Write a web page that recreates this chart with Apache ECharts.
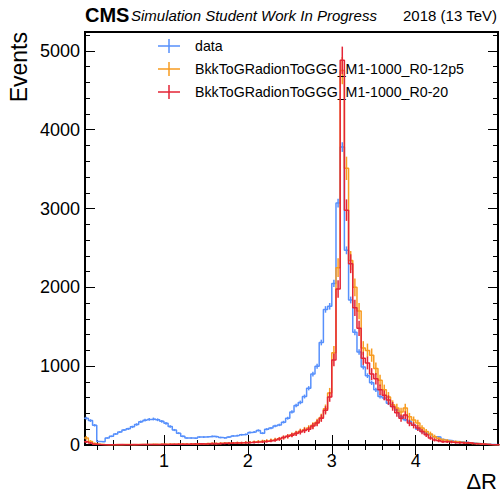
<!DOCTYPE html>
<html><head><meta charset="utf-8">
<script src="https://cdn.jsdelivr.net/npm/echarts@6/dist/echarts.min.js"></script>
<style>html,body{margin:0;padding:0;background:#fff}#c{width:500px;height:493px}</style>
</head><body><div id="c"></div>
<script>
// Histogram binning (ΔR), bins of width 0.05 starting at 0.05
const binStart = 0.05, binWidth = 0.05;

const dataCounts = [340,310,250,45,40,90,110,140,165,190,
 205,230,260,295,315,325,330,320,300,275,
 235,190,150,110,90,88,85,100,100,105,
 110,105,95,90,100,115,120,130,135,160,
 165,185,150,200,215,240,255,290,340,420,
 500,540,615,720,900,1000,1300,1720,1760,2050,
 3070,3780,2470,1840,1430,1180,990,880,790,700,
 615,595,530,490,445,360,320,300,255,200,
 170,150,130,105,100,70,60,55,45,40,
 35,30,25,20,15,12,8,6,4];

const r12p5Counts = [90,45,20,8,5,4,3,5,4,6,
 5,4,6,5,7,6,8,7,9,8,
 10,9,11,12,11,13,14,16,15,18,
 20,19,22,24,23,26,30,28,33,36,
 40,45,50,55,62,70,80,95,110,130,
 150,175,195,215,250,290,350,460,660,1170,
 2250,4750,3510,2340,2000,1700,1230,1200,1140,970,
 820,700,610,510,470,420,470,360,317,280,
 215,170,140,105,80,63,55,45,40,35,
 30,25,20,18,12,10,6,4,3];

const r20Counts = [40,25,10,5,4,3,4,3,5,4,
 4,5,4,6,5,6,7,6,8,7,
 9,8,10,11,10,12,13,15,14,16,
 18,17,20,21,22,24,26,27,30,32,
 35,38,42,48,55,62,75,95,110,125,
 145,165,185,200,240,280,340,440,610,1080,
 1980,4880,2980,2300,1740,1480,1100,1040,900,840,
 700,630,570,490,410,340,380,280,250,215,
 170,130,90,65,55,42,40,35,30,30,
 25,28,20,15,12,8,5,3,2];

const seriesNames = ['data', 'BkkToGRadionToGGG_M1-1000_R0-12p5', 'BkkToGRadionToGGG_M1-1000_R0-20'];
const seriesCounts = [dataCounts, r12p5Counts, r20Counts];
const errScale = [1, 2.5, 2.5];   // MC weighted uncertainty scale
const colors = ['#5790fc', '#f89c20', '#e42536'];

const xMajorTicks = [1, 2, 3, 4];
const xMinorTicks = [0.2,0.4,0.6,0.8,1.2,1.4,1.6,1.8,2.2,2.4,2.6,2.8,3.2,3.4,3.6,3.8,4.2,4.4,4.6,4.8];
const yMajorTicks = [0, 1000, 2000, 3000, 4000, 5000];
const yMinorTicks = [200,400,600,800,1200,1400,1600,1800,2200,2400,2600,2800,3200,3400,3600,3800,4200,4400,4600,4800,5200];

const X_MIN = 0.06, X_MAX = 4.98, Y_MIN = 0, Y_MAX = 5240;
const FONT = '"Liberation Sans", Arial, Helvetica, sans-serif';

function edge(i) { return +(binStart + i * binWidth).toFixed(4); }
function stepData(counts) {
  const d = counts.map((v, i) => [edge(i), v]);
  d.push([edge(counts.length), counts[counts.length - 1]]);
  return d;
}
function errData(counts, k) {
  return counts.map((v, i) => [+(binStart + (i + 0.5) * binWidth).toFixed(4), v, k * Math.sqrt(v)]);
}

const plusIcon = 'path://M0,6.25H22V7.75H0Z M10.25,0H11.75V14H10.25Z';

const series = [];
seriesNames.forEach((name, s) => {
  series.push({
    name: name, type: 'line', step: 'end', data: stepData(seriesCounts[s]),
    symbol: 'none', showSymbol: false, clip: true, silent: true,
    lineStyle: { color: colors[s], width: 1.5 }, itemStyle: { color: colors[s] },
    xAxisIndex: 0, yAxisIndex: 0, z: 2 + s
  });
  const col = colors[s];
  series.push({
    name: name + ' err', type: 'custom', data: errData(seriesCounts[s], errScale[s]),
    xAxisIndex: 0, yAxisIndex: 0, clip: true, silent: true, z: 2 + s,
    renderItem: function (params, api) {
      const x = api.value(0), v = api.value(1), e = api.value(2);
      const p1 = api.coord([x, v - e]);
      const p2 = api.coord([x, v + e]);
      return { type: 'line', shape: { x1: p1[0], y1: p1[1], x2: p2[0], y2: p2[1] },
               style: { stroke: col, lineWidth: 1.5 } };
    }
  });
});

function plain(v) { return String(Math.round(v)); }
function xAx(pos, ticks, len, labels) {
  return {
    type: 'value', position: pos, min: X_MIN, max: X_MAX, gridIndex: 0,
    axisLine: { show: false }, splitLine: { show: false },
    axisTick: { show: true, inside: true, length: len, customValues: ticks, lineStyle: { color: '#000', width: 1 } },
    axisLabel: labels ? { show: true, customValues: ticks, formatter: plain, fontSize: 18, color: '#000', fontFamily: FONT, margin: 7 } : { show: false }
  };
}
function yAx(pos, ticks, len, labels) {
  return {
    type: 'value', position: pos, min: Y_MIN, max: Y_MAX, gridIndex: 0,
    axisLine: { show: false }, splitLine: { show: false },
    axisTick: { show: true, inside: true, length: len, customValues: ticks, lineStyle: { color: '#000', width: 1 } },
    axisLabel: labels ? { show: true, customValues: ticks, formatter: plain, fontSize: 18, color: '#000', fontFamily: FONT, margin: 5 } : { show: false }
  };
}

const chart = echarts.init(document.getElementById('c'), null, { renderer: 'svg' });
chart.setOption({
  animation: false,
  backgroundColor: '#fff',
  grid: { left: 85, top: 32, right: 2, bottom: 48, show: true, borderColor: '#000', borderWidth: 2, backgroundColor: 'transparent' },
  xAxis: [
    xAx('bottom', xMajorTicks, 10, true),
    xAx('bottom', xMinorTicks, 5, false),
    xAx('top', xMajorTicks, 10, false),
    xAx('top', xMinorTicks, 5, false)
  ],
  yAxis: [
    yAx('left', yMajorTicks, 10, true),
    yAx('left', yMinorTicks, 5, false),
    yAx('right', yMajorTicks, 10, false),
    yAx('right', yMinorTicks, 5, false)
  ],
  legend: {
    data: seriesNames.map((n, s) => ({ name: n, icon: plusIcon, itemStyle: { color: colors[s] } })),
    orient: 'vertical', left: 158, top: 38, itemWidth: 22, itemHeight: 14, itemGap: 7, padding: 0,
    selectedMode: false,
    textStyle: { fontSize: 14.2, color: '#000', fontFamily: FONT, padding: [0, 0, 0, 10], lineHeight: 16 }
  },
  graphic: [
    { type: 'text', x: 85, y: 15, style: { text: 'CMS', font: 'bold 20px ' + FONT, fill: '#000', textVerticalAlign: 'middle' } },
    { type: 'text', x: 131, y: 15.5, style: { text: 'Simulation Student Work In Progress', font: 'italic 15px ' + FONT, fill: '#000', textVerticalAlign: 'middle' } },
    { type: 'text', x: 497, y: 15.5, style: { text: '2018 (13 TeV)', font: '15px ' + FONT, fill: '#000', textAlign: 'right', textVerticalAlign: 'middle' } },
    { type: 'text', x: 18.5, y: 32, rotation: Math.PI / 2, style: { text: 'Events', font: '23px ' + FONT, fill: '#000', textAlign: 'right', textVerticalAlign: 'middle' } },
    { type: 'text', x: 497, y: 492.5, style: { text: 'ΔR', font: '22px ' + FONT, fill: '#000', textAlign: 'right', textVerticalAlign: 'bottom' } }
  ],
  series: series
});
</script>
</body></html>
